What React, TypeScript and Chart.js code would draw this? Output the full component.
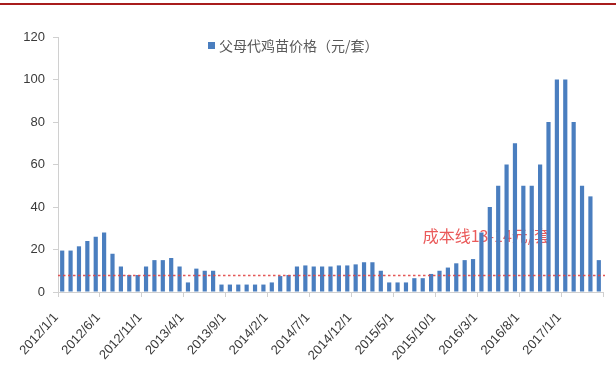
import React, { useEffect, useRef } from "react";
import { Chart, registerables } from "chart.js";

Chart.register(...registerables);

// Monthly categories, 2012/1 – 2017/5
const months: string[] = [
  "2012/1/1", "2012/2/1", "2012/3/1", "2012/4/1", "2012/5/1", "2012/6/1",
  "2012/7/1", "2012/8/1", "2012/9/1", "2012/10/1", "2012/11/1", "2012/12/1",
  "2013/1/1", "2013/2/1", "2013/3/1", "2013/4/1", "2013/5/1", "2013/6/1",
  "2013/7/1", "2013/8/1", "2013/9/1", "2013/10/1", "2013/11/1", "2013/12/1",
  "2014/1/1", "2014/2/1", "2014/3/1", "2014/4/1", "2014/5/1", "2014/6/1",
  "2014/7/1", "2014/8/1", "2014/9/1", "2014/10/1", "2014/11/1", "2014/12/1",
  "2015/1/1", "2015/2/1", "2015/3/1", "2015/4/1", "2015/5/1", "2015/6/1",
  "2015/7/1", "2015/8/1", "2015/9/1", "2015/10/1", "2015/11/1", "2015/12/1",
  "2016/1/1", "2016/2/1", "2016/3/1", "2016/4/1", "2016/5/1", "2016/6/1",
  "2016/7/1", "2016/8/1", "2016/9/1", "2016/10/1", "2016/11/1", "2016/12/1",
  "2017/1/1", "2017/2/1", "2017/3/1", "2017/4/1", "2017/5/1",
];

// 父母代鸡苗价格（元/套）
const prices: number[] = [
  19.5, 19.5, 21.5, 24, 26, 28,
  18, 12, 8, 8, 12, 15,
  15, 16, 12, 4.5, 11, 10,
  10, 3.5, 3.5, 3.5, 3.5, 3.5,
  3.5, 4.5, 7.5, 8, 12, 12.5,
  12, 12, 12, 12.5, 12.5, 13,
  14, 14, 10, 4.5, 4.5, 4.5,
  6.5, 6.5, 8.5, 10, 11.5, 13.5,
  15, 15.5, 28, 40, 50, 60,
  70, 50, 50, 60, 80, 100,
  100, 80, 50, 45, 15,
];

const SERIES_NAME = "父母代鸡苗价格（元/套）";
const LABEL_EVERY = 5;
const Y_MIN = 0;
const Y_MAX = 120;
const Y_STEP = 20;

// Cost reference line and its caption
const COST_LINE = 8;
const COST_LABEL = "成本线13-14元/套";
const COST_LABEL_AT = "2015/8/1";
const COST_LABEL_VALUE = 26.5;

const BAR_COLOR = "#4A7EBF";
const AXIS_COLOR = "#D0D0D0";
const TEXT_COLOR = "#3A3A3A";
const CJK_FONT = '"Noto Sans CJK SC", "Noto Sans", sans-serif';
const NUM_FONT = '"Liberation Sans", Arial, sans-serif';

const overlayPlugin = {
  id: "costLineAndLegend",
  beforeDatasetsDraw(chart: any) {
    const { ctx, scales } = chart;
    const x = scales.x;
    const y = scales.y;
    ctx.save();
    ctx.font = `16px ${CJK_FONT}`;
    ctx.fillStyle = "rgba(232, 72, 72, 0.9)";
    ctx.textAlign = "left";
    ctx.textBaseline = "middle";
    const left = x.getPixelForValue(months.indexOf(COST_LABEL_AT));
    ctx.fillText(COST_LABEL, left, y.getPixelForValue(COST_LABEL_VALUE));
    ctx.restore();
  },
  afterDatasetsDraw(chart: any) {
    const { ctx, chartArea, scales } = chart;
    const yPix = Math.round(scales.y.getPixelForValue(COST_LINE)) + 0.5;
    ctx.save();
    ctx.strokeStyle = "rgba(225, 70, 70, 0.9)";
    ctx.lineWidth = 1.3;
    ctx.setLineDash([2.5, 2.5]);
    ctx.beginPath();
    ctx.moveTo(chartArea.left, yPix);
    ctx.lineTo(chartArea.right + 2, yPix);
    ctx.stroke();
    ctx.restore();
  },
  afterDraw(chart: any) {
    const { ctx } = chart;
    const ds = chart.data.datasets[0];
    ctx.save();
    ctx.fillStyle = ds.backgroundColor;
    ctx.fillRect(208, 42, 7, 7);
    ctx.font = `14px ${CJK_FONT}`;
    ctx.fillStyle = "#595959";
    ctx.textAlign = "left";
    ctx.textBaseline = "middle";
    ctx.fillText(ds.label, 219, 45.5);
    ctx.restore();
  },
};

export default function App() {
  const canvasRef = useRef<HTMLCanvasElement | null>(null);

  useEffect(() => {
    const canvas = canvasRef.current;
    if (!canvas) return;
    const chart = new Chart(canvas, {
      type: "bar",
      data: {
        labels: months,
        datasets: [
          {
            label: SERIES_NAME,
            data: prices,
            backgroundColor: BAR_COLOR,
            borderWidth: 0,
            categoryPercentage: 1,
            barPercentage: 0.5,
          },
        ],
      },
      options: {
        responsive: false,
        animation: false,
        layout: { padding: { left: 0, top: 37, right: 13, bottom: 0 } },
        plugins: {
          legend: { display: false },
          tooltip: { enabled: false },
        },
        scales: {
          x: {
            type: "category",
            offset: true,
            grid: {
              offset: true,
              drawOnChartArea: false,
              drawTicks: true,
              tickLength: 5,
              tickColor: (c: any) =>
                c.index === undefined || c.index % LABEL_EVERY === 0 ? AXIS_COLOR : "rgba(0,0,0,0)",
            },
            border: { color: AXIS_COLOR, width: 1 },
            ticks: {
              autoSkip: false,
              minRotation: 48,
              maxRotation: 48,
              labelOffset: -6,
              padding: 13,
              color: TEXT_COLOR,
              font: { family: NUM_FONT, size: 13 },
              callback: (_v: any, i: number) => (i % LABEL_EVERY === 0 ? months[i] : ""),
            },
            afterFit: (s: any) => {
              s.height = 75;
              s.paddingLeft = 0;
              s.paddingRight = 0;
            },
          },
          y: {
            min: Y_MIN,
            max: Y_MAX,
            grid: {
              drawOnChartArea: false,
              drawTicks: true,
              tickLength: 5,
              tickColor: AXIS_COLOR,
            },
            border: { color: AXIS_COLOR, width: 1 },
            ticks: {
              stepSize: Y_STEP,
              padding: 8,
              color: TEXT_COLOR,
              font: { family: NUM_FONT, size: 13 },
            },
            afterFit: (s: any) => {
              s.width = 58;
              s.paddingTop = 0;
              s.paddingBottom = 0;
            },
          },
        },
      },
      plugins: [overlayPlugin],
    });
    return () => chart.destroy();
  }, []);

  return (
    <div style={{ position: "fixed", left: 0, top: 0, width: 616, height: 367, background: "#fff" }}>
      <div style={{ position: "absolute", left: 0, top: 3, width: 616, height: 2, background: "#A81C1C" }} />
      <canvas ref={canvasRef} width={616} height={367} style={{ display: "block", width: 616, height: 367 }} />
    </div>
  );
}
